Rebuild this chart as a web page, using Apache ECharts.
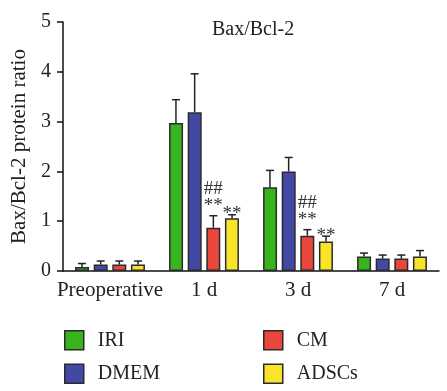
<!DOCTYPE html>
<html>
<head>
<meta charset="utf-8">
<script src="https://cdn.jsdelivr.net/npm/echarts@6/dist/echarts.min.js"></script>
<style>
  html, body { margin: 0; padding: 0; background: #fff; }
  #main { width: 447px; height: 391px; }
</style>
</head>
<body>
<div id="main"></div>
<script>
// 数据
var categories = ['Preoperative', '1 d', '3 d', '7 d'];
var groups = ['IRI', 'DMEM', 'CM', 'ADSCs'];
var colors = ['#38b41e', '#4149a5', '#e9463c', '#f8e52a'];
var iriValues = [0.08, 2.97, 1.68, 0.29];
var iriSd = [0.07, 0.47, 0.34, 0.07];
var dmemValues = [0.13, 3.19, 2.00, 0.25];
var dmemSd = [0.07, 0.77, 0.28, 0.07];
var cmValues = [0.13, 0.87, 0.71, 0.25];
var cmSd = [0.07, 0.24, 0.12, 0.07];
var adscValues = [0.13, 1.06, 0.59, 0.29];
var adscSd = [0.07, 0.07, 0.11, 0.12];
var cmMarks = ['', '##\n**', '##\n**', ''];
var adscMarks = ['', '**', '**', ''];

var font = 'Liberation Serif';
var barW = 14;
var step = 18.7; // 柱子间距
var markShift = [0, 0, -3, 6]; // 标记上下微调

var allValues = [iriValues, dmemValues, cmValues, adscValues];
var allSd = [iriSd, dmemSd, cmSd, adscSd];
var allMarks = [[], [], cmMarks, adscMarks];

var chart = echarts.init(document.getElementById('main'), null, { renderer: 'canvas' });

var series = [];
groups.forEach(function (name, i) {
  series.push({
    name: name,
    type: 'bar',
    data: allValues[i],
    barWidth: barW,
    barGap: '33%',
    itemStyle: { color: colors[i], borderColor: '#2b2b2b', borderWidth: 1.5 },
    z: 2
  });
});

// 误差线 + 显著性标记
groups.forEach(function (name, i) {
  var data = allValues[i].map(function (v, k) {
    return [k, v, v + allSd[i][k], allMarks[i][k] || ''];
  });
  series.push({
    type: 'custom',
    data: data,
    z: 3,
    renderItem: function (params, api) {
      var k = api.value(0);
      var base = api.coord([k, api.value(1)]);
      var top = api.coord([k, api.value(2)]);
      var x = base[0] + (i - 1.5) * step;
      var mark = data[params.dataIndex][3];
      var children = [
        { type: 'line', shape: { x1: x, y1: base[1], x2: x, y2: top[1] }, style: { stroke: '#222', lineWidth: 1.5 } },
        { type: 'line', shape: { x1: x - 4, y1: top[1], x2: x + 4, y2: top[1] }, style: { stroke: '#222', lineWidth: 1.5 } }
      ];
      if (mark) {
        children.push({
          type: 'text',
          style: {
            x: x, y: top[1] + 2 + markShift[i], text: mark,
            align: 'center', verticalAlign: 'bottom',
            fontFamily: font, fontSize: 19, lineHeight: 17, fill: '#333'
          }
        });
      }
      return { type: 'group', children: children };
    }
  });
});

var legendBase = {
  orient: 'vertical', top: 330, itemGap: 13, padding: 0, height: 60,
  itemWidth: 19, itemHeight: 19, icon: 'rect',
  itemStyle: { borderColor: '#2b2b2b', borderWidth: 1.5 },
  textStyle: { fontFamily: font, fontSize: 20, color: '#222', padding: [0, 0, 0, 9] }
};

var option = {
  animation: false,
  title: {
    text: 'Bax/Bcl-2',
    left: 207, top: 15,
    textStyle: { fontFamily: font, fontSize: 20, fontWeight: 'normal', color: '#222' }
  },
  legend: [
    Object.assign({}, legendBase, { left: 64, data: ['IRI', 'DMEM'] }),
    Object.assign({}, legendBase, { left: 263, data: ['CM', 'ADSCs'] })
  ],
  grid: { left: 63, right: 8, top: 22, bottom: 120, containLabel: false, outerBoundsMode: 'none' },
  xAxis: {
    type: 'category',
    data: categories,
    axisLine: { lineStyle: { color: '#111', width: 1.5 } },
    axisTick: { alignWithLabel: true, length: 6, lineStyle: { color: '#111', width: 1.5 } },
    axisLabel: { fontFamily: font, fontSize: 21, color: '#222', margin: 9, interval: 0 }
  },
  yAxis: {
    type: 'value',
    min: 0, max: 5, interval: 1,
    name: 'Bax/Bcl-2 protein ratio',
    nameLocation: 'middle',
    nameGap: 32,
    nameTextStyle: { fontFamily: font, fontSize: 21, color: '#222' },
    splitLine: { show: false },
    axisLine: { show: true, lineStyle: { color: '#111', width: 1.5 } },
    axisTick: { show: true, length: 6, lineStyle: { color: '#111', width: 1.5 } },
    axisLabel: { fontFamily: font, fontSize: 20, color: '#222', margin: 12 }
  },
  series: series
};

chart.setOption(option);
</script>
</body>
</html>
